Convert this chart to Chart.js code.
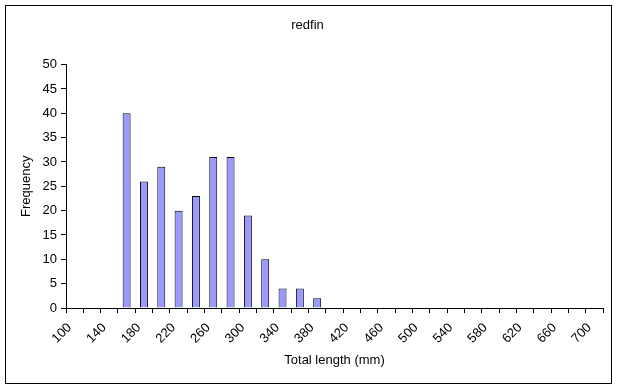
<!DOCTYPE html>
<html>
<head>
<meta charset="utf-8">
<script src="https://cdn.jsdelivr.net/npm/chart.js@4.4.0/dist/chart.umd.min.js"></script>
<style>
  html, body { margin: 0; padding: 0; background: #fff; }
  #chart { display: block; }
</style>
</head>
<body>
<canvas id="chart" width="619" height="390"></canvas>
<script>
// histogram bins (mm) and counts
const binLabels = ['100', '120', '140', '160', '180', '200', '220', '240', '260', '280',
                   '300', '320', '340', '360', '380', '400', '420', '440', '460', '480',
                   '500', '520', '540', '560', '580', '600', '620', '640', '660', '680', '700'];
const frequency = [0, 0, 0, 40, 26, 29, 20, 23, 31, 31,
                   19, 10, 4, 4, 2, 0, 0, 0, 0, 0,
                   0, 0, 0, 0, 0, 0, 0, 0, 0, 0, 0];
const yTicks = { min: 0, max: 50, step: 5 };

const FONT = 'Arial, "Liberation Sans", sans-serif';

// white page + thin black frame round the whole chart, like the Excel chart border
const framePlugin = {
    id: 'frame',
    beforeDraw(chart) {
        const ctx = chart.ctx;
        ctx.save();
        ctx.fillStyle = '#fff';
        ctx.fillRect(0, 0, chart.width, chart.height);
        ctx.restore();
    },
    afterDraw(chart) {
        const ctx = chart.ctx;
        ctx.save();
        ctx.strokeStyle = '#000';
        ctx.lineWidth = 1;
        ctx.strokeRect(5.5, 5.5, 606, 378);
        ctx.restore();
    }
};

new Chart(document.getElementById('chart').getContext('2d'), {
    type: 'bar',
    data: {
        labels: binLabels,
        datasets: [{
            label: 'Frequency',
            data: frequency,
            backgroundColor: '#9999ff',
            borderColor: '#000',
            borderWidth: 1,
            barPercentage: 0.46,
            categoryPercentage: 1
        }]
    },
    options: {
        responsive: false,
        animation: false,
        layout: { padding: { left: 12, right: 16, top: 18, bottom: 12 } },
        plugins: {
            legend: { display: false },
            tooltip: { enabled: false },
            title: {
                display: true,
                text: 'redfin',
                color: '#000',
                font: { family: FONT, size: 13, weight: 'normal' },
                padding: { top: 0, bottom: 31 }
            }
        },
        scales: {
            x: {
                grid: { offset: true, drawOnChartArea: false, tickLength: 5, color: '#000' },
                border: { color: '#000' },
                ticks: {
                    autoSkip: false,
                    maxRotation: 45,
                    minRotation: 45,
                    color: '#000',
                    padding: 7,
                    labelOffset: -5,
                    font: { family: FONT, size: 13 },
                    callback(value, index) {
                        return index % 2 === 0 ? binLabels[index] : '';
                    }
                },
                title: {
                    display: true,
                    text: 'Total length (mm)',
                    color: '#000',
                    font: { family: FONT, size: 13 },
                    padding: { top: 0, bottom: 10 }
                },
                afterFit(scale) { scale.height = 70; }
            },
            y: {
                min: yTicks.min,
                max: yTicks.max,
                grid: { drawOnChartArea: false, tickLength: 5, color: '#000' },
                border: { color: '#000' },
                ticks: {
                    stepSize: yTicks.step,
                    color: '#000',
                    padding: 4,
                    font: { family: FONT, size: 13 }
                },
                title: {
                    display: true,
                    text: 'Frequency',
                    color: '#000',
                    font: { family: FONT, size: 13 },
                    padding: { top: 7, bottom: 0 }
                },
                afterFit(scale) { scale.width = 54; }
            }
        }
    },
    plugins: [framePlugin]
});
</script>
</body>
</html>
